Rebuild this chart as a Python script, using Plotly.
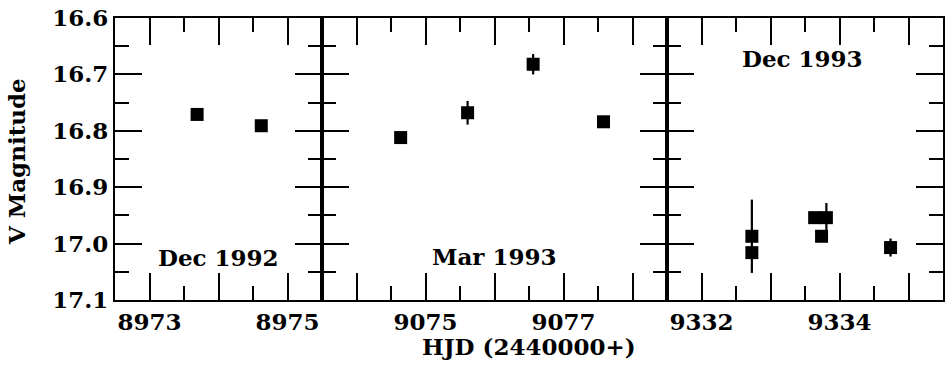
import plotly.graph_objects as go
from plotly.subplots import make_subplots

# ---- data ----
p1_hjd = [8973.69, 8974.62]
p1_mag = [16.771, 16.791]
p1_err = [0.0, 0.0]

p2_hjd = [9074.64, 9075.61, 9076.56, 9077.58]
p2_mag = [16.812, 16.768, 16.682, 16.784]
p2_err = [0.0, 0.021, 0.018, 0.0]

p3_hjd = [9332.73, 9332.73, 9333.64, 9333.81, 9333.74, 9334.74]
p3_mag = [16.987, 17.016, 16.954, 16.954, 16.987, 17.007]
p3_err = [0.065, 0.0, 0.0, 0.026, 0.01, 0.016]

panel_ranges = [[8972.5, 8975.5], [9073.5, 9078.5], [9331.5, 9335.5]]
major_ticks = [[8973, 8974, 8975],
               [9074, 9075, 9076, 9077, 9078],
               [9332, 9333, 9334, 9335]]
major_text = [["8973", "", "8975"],
              ["", "9075", "", "9077", ""],
              ["9332", "", "9334", ""]]
panel_labels = ["Dec 1992", "Mar 1993", "Dec 1993"]
label_pos = [(8974.0, 17.024), (9076.0, 17.022), (9333.47, 16.672)]

y_range = [17.1, 16.6]

FONT = "DejaVu Serif"
FS = 23
widths = [r[1] - r[0] for r in panel_ranges]

fig = make_subplots(rows=1, cols=3, shared_yaxes=False,
                    horizontal_spacing=0, column_widths=widths)

series = [(p1_hjd, p1_mag, p1_err), (p2_hjd, p2_mag, p2_err), (p3_hjd, p3_mag, p3_err)]
for i, (xs, ys, es) in enumerate(series):
    fig.add_trace(go.Scatter(
        x=xs, y=ys, mode="markers",
        marker=dict(symbol="square", size=13, color="black", line=dict(width=0)),
        error_y=dict(type="data", array=es, visible=True, color="black",
                     thickness=2.2, width=0),
        showlegend=False), row=1, col=i + 1)

for i in range(3):
    fig.update_xaxes(
        row=1, col=i + 1, range=panel_ranges[i],
        tickmode="array", tickvals=major_ticks[i], ticktext=major_text[i],
        ticks="inside", ticklen=27, tickwidth=2, tickcolor="black",
        minor=dict(dtick=0.5, tick0=0.5, ticks="inside", ticklen=14,
                   tickwidth=2, tickcolor="black", showgrid=False),
        showline=True, linecolor="black", linewidth=2, mirror="allticks",
        showgrid=False, zeroline=False,
        tickfont=dict(family=FONT, size=FS, color="black", weight="bold"))
    fig.update_yaxes(
        row=1, col=i + 1, range=y_range,
        tickmode="linear", tick0=16.6, dtick=0.1, tickformat=".1f",
        ticks="inside", ticklen=27, tickwidth=2, tickcolor="black",
        minor=dict(dtick=0.05, tick0=16.6, ticks="inside", ticklen=14,
                   tickwidth=2, tickcolor="black", showgrid=False),
        showline=True, linecolor="black", linewidth=2, mirror="allticks",
        showgrid=False, zeroline=False, showticklabels=(i == 0),
        ticklabeloverflow="allow",
        tickfont=dict(family=FONT, size=FS, color="black", weight="bold"))

for i, txt in enumerate(panel_labels):
    xr = "x" if i == 0 else f"x{i + 1}"
    yr = "y" if i == 0 else f"y{i + 1}"
    fig.add_annotation(x=label_pos[i][0], y=label_pos[i][1], xref=xr, yref=yr,
                       text=txt, showarrow=False,
                       font=dict(family=FONT, size=FS, color="black", weight="bold"))

fig.add_annotation(x=0.5, y=-0.165, xref="paper", yref="paper",
                   text="HJD (2440000+)", showarrow=False, yanchor="middle",
                   font=dict(family=FONT, size=FS, color="black", weight="bold"))
fig.add_annotation(x=-0.118, y=0.49, xref="paper", yref="paper",
                   text="V Magnitude", showarrow=False, textangle=-90,
                   xanchor="center", yanchor="middle",
                   font=dict(family=FONT, size=23, color="black", weight="bold"))

fig.update_layout(width=949, height=366,
                  margin=dict(l=115, r=4, t=15, b=66),
                  paper_bgcolor="white", plot_bgcolor="white")

fig.write_html("out.html", config={"displayModeBar": False},
               post_script="document.body.style.margin='0';"
                           "document.body.style.overflow='hidden';")
